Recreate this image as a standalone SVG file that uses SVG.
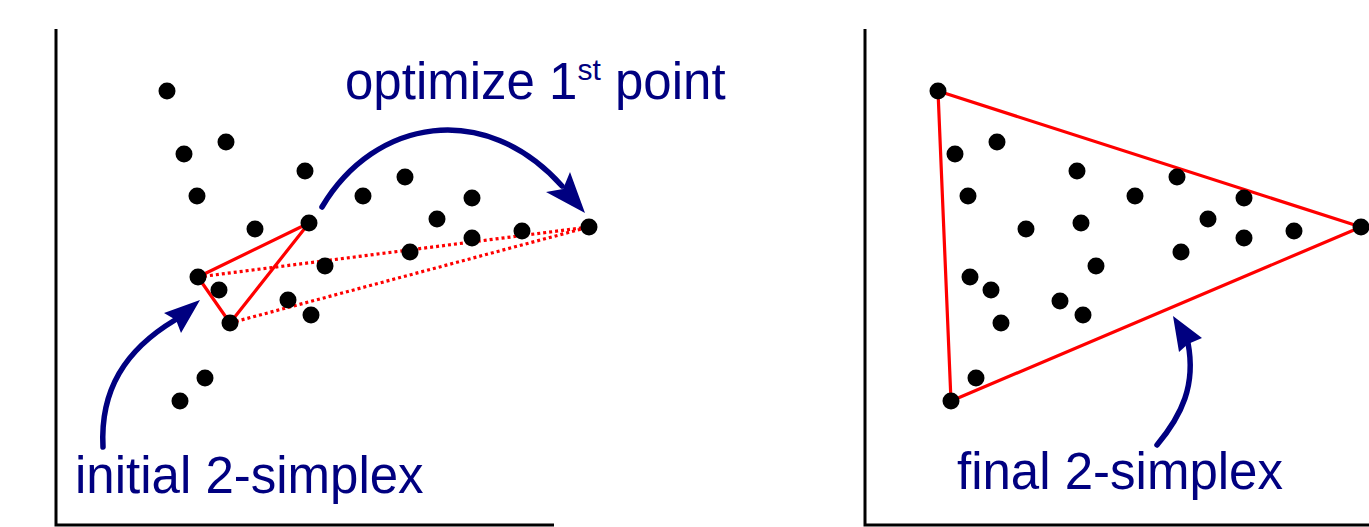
<svg xmlns="http://www.w3.org/2000/svg" width="1369" height="527" viewBox="0 0 1369 527">
<style>
.axis{fill:none;stroke:#000;stroke-width:3}
.dot{fill:#000}
.simplex{fill:none;stroke:#ff0000;stroke-width:3.2;stroke-linejoin:round}
.trial{fill:none;stroke:#ff0000;stroke-width:3.2;stroke-dasharray:3 3}
.shaft{fill:none;stroke:#000080;stroke-width:5.5;stroke-linecap:round}
.head{fill:#000080}
.label{font-family:"Liberation Sans",Arial,sans-serif;font-size:51px;fill:#000080}
</style>
<rect width="1369" height="527" fill="#fff"/>
<g id="axes">
<polyline class="axis" points="56,29 56,525 554,525"/>
<polyline class="axis" points="865,29 865,525 1369,525"/>
</g>
<g id="connectors">
<polygon class="simplex" points="198,277 309,223 230,323"/>
<line class="trial" x1="198" y1="277" x2="589" y2="227"/>
<line class="trial" x1="230" y1="323" x2="589" y2="227"/>
<polygon class="simplex" points="938,91 1361,227 951,401"/>
<path class="shaft" d="M322,207 C375,118 485,100 562,186"/>
<polygon class="head" points="585,213 546,192 563,189 570,172"/>
<path class="shaft" d="M103,447 C100,390 125,350 175,320"/>
<polygon class="head" points="200,300 164,313 176,320 181,333"/>
<path class="shaft" d="M1157,445 C1182,415 1196,385 1188,343"/>
<polygon class="head" points="1173,316 1179,352 1188,344 1202,338"/>
</g>
<g id="points-left">
<circle class="dot" cx="167" cy="91" r="8.5"/>
<circle class="dot" cx="184" cy="154" r="8.5"/>
<circle class="dot" cx="226" cy="142" r="8.5"/>
<circle class="dot" cx="197" cy="196" r="8.5"/>
<circle class="dot" cx="305" cy="171" r="8.5"/>
<circle class="dot" cx="255" cy="229" r="8.5"/>
<circle class="dot" cx="309" cy="223" r="8.5"/>
<circle class="dot" cx="363" cy="196" r="8.5"/>
<circle class="dot" cx="405" cy="177" r="8.5"/>
<circle class="dot" cx="437" cy="219" r="8.5"/>
<circle class="dot" cx="472" cy="198" r="8.5"/>
<circle class="dot" cx="472" cy="238" r="8.5"/>
<circle class="dot" cx="522" cy="231" r="8.5"/>
<circle class="dot" cx="589" cy="227" r="8.5"/>
<circle class="dot" cx="410" cy="252" r="8.5"/>
<circle class="dot" cx="325" cy="266" r="8.5"/>
<circle class="dot" cx="198" cy="277" r="8.5"/>
<circle class="dot" cx="219" cy="290" r="8.5"/>
<circle class="dot" cx="230" cy="323" r="8.5"/>
<circle class="dot" cx="288" cy="300" r="8.5"/>
<circle class="dot" cx="311" cy="315" r="8.5"/>
<circle class="dot" cx="205" cy="378" r="8.5"/>
<circle class="dot" cx="180" cy="401" r="8.5"/>
</g>
<g id="points-right">
<circle class="dot" cx="938" cy="91" r="8.5"/>
<circle class="dot" cx="955" cy="154" r="8.5"/>
<circle class="dot" cx="997" cy="142" r="8.5"/>
<circle class="dot" cx="968" cy="196" r="8.5"/>
<circle class="dot" cx="1077" cy="171" r="8.5"/>
<circle class="dot" cx="1026" cy="229" r="8.5"/>
<circle class="dot" cx="1081" cy="223" r="8.5"/>
<circle class="dot" cx="1135" cy="196" r="8.5"/>
<circle class="dot" cx="1177" cy="177" r="8.5"/>
<circle class="dot" cx="1208" cy="219" r="8.5"/>
<circle class="dot" cx="1244" cy="198" r="8.5"/>
<circle class="dot" cx="1244" cy="238" r="8.5"/>
<circle class="dot" cx="1294" cy="231" r="8.5"/>
<circle class="dot" cx="1361" cy="227" r="8.5"/>
<circle class="dot" cx="1181" cy="252" r="8.5"/>
<circle class="dot" cx="1096" cy="266" r="8.5"/>
<circle class="dot" cx="970" cy="277" r="8.5"/>
<circle class="dot" cx="991" cy="290" r="8.5"/>
<circle class="dot" cx="1001" cy="323" r="8.5"/>
<circle class="dot" cx="1060" cy="301" r="8.5"/>
<circle class="dot" cx="1083" cy="315" r="8.5"/>
<circle class="dot" cx="976" cy="378" r="8.5"/>
<circle class="dot" cx="951" cy="401" r="8.5"/>
</g>
<g id="label-optimize">
<text class="label" x="345" y="99" font-size="52">optimize 1<tspan font-size="30" dy="-19">st</tspan><tspan dy="19"> point</tspan></text>
</g>
<g id="label-initial">
<text class="label" x="75" y="493">initial 2-simplex</text>
</g>
<g id="label-final">
<text class="label" x="957" y="489">final 2-simplex</text>
</g>
</svg>
